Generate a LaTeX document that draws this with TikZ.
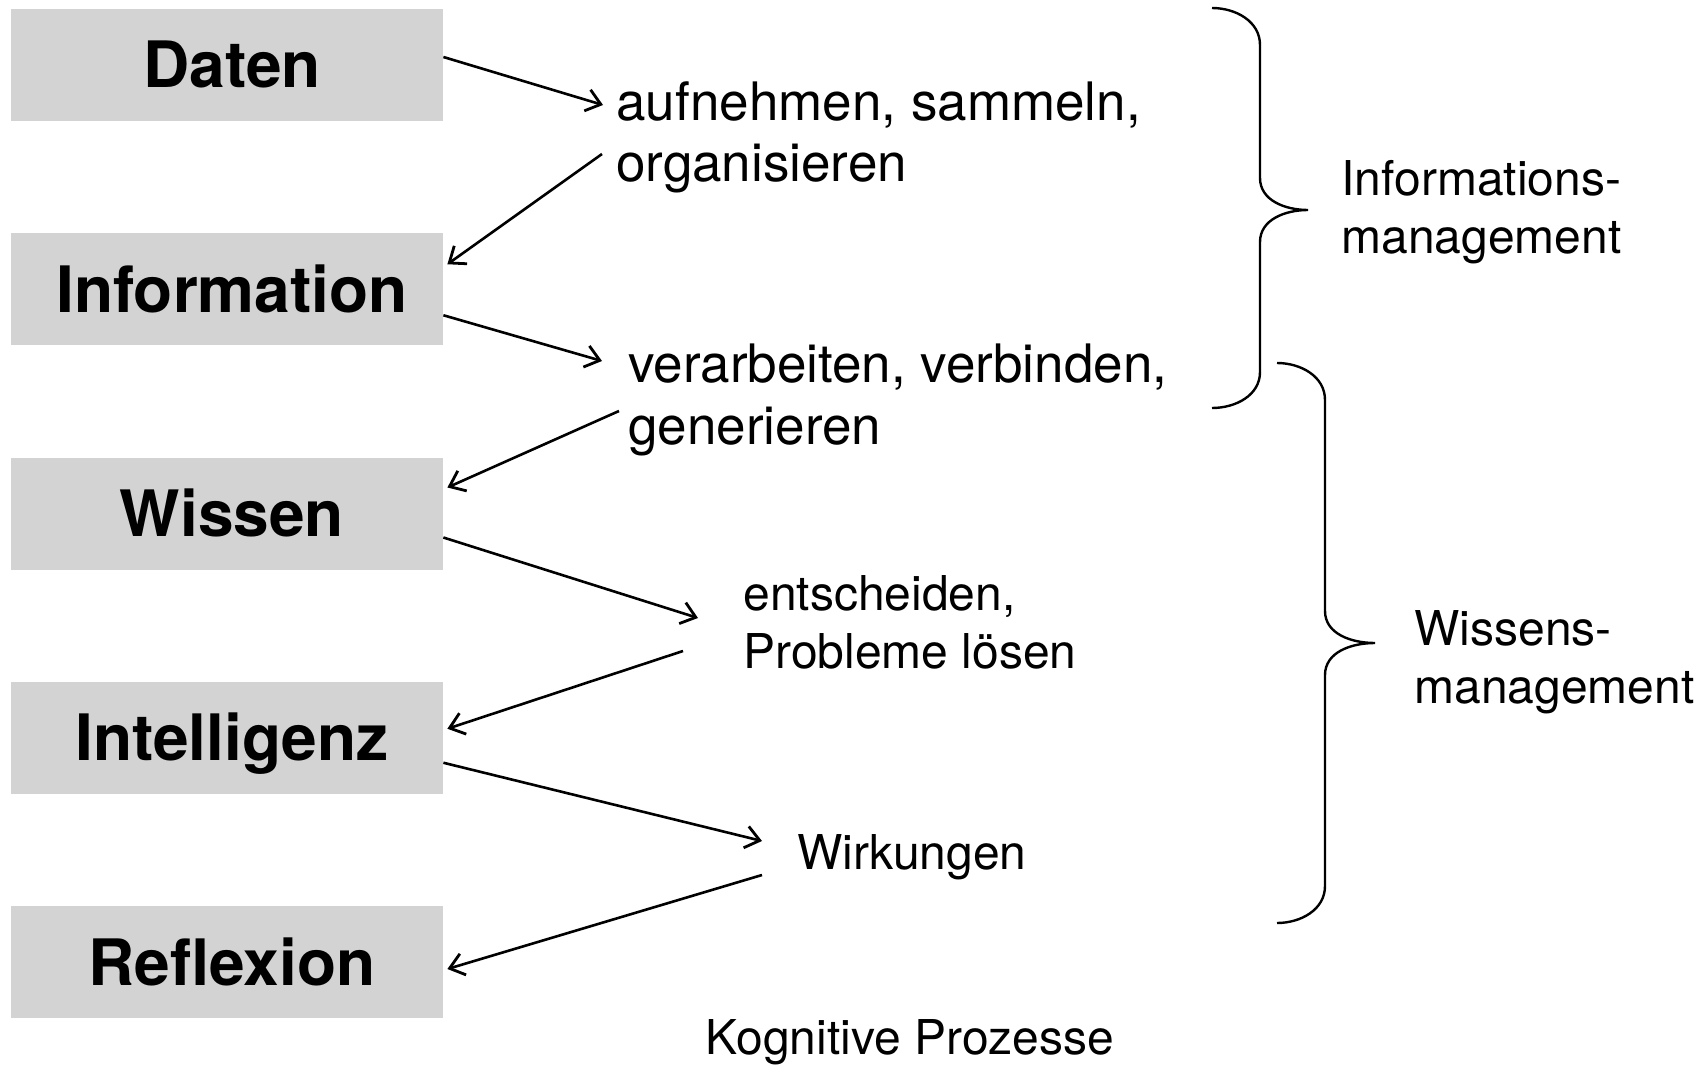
\documentclass[tikz,border=0pt]{standalone}
\usepackage{fontspec}
\setmainfont{TeX Gyre Heros}
\usetikzlibrary{arrows.meta}
\definecolor{boxgray}{RGB}{211,211,211}
\tikzset{
	stage/.style={fill=boxgray, minimum width=216pt, minimum height=56pt, inner sep=0pt,
		font=\fontsize{32}{38}\selectfont\bfseries, text height=23pt, text depth=0pt},
	verb/.style={anchor=base west, inner sep=0pt, align=left, font=\fontsize{26.5}{31}\selectfont},
	note/.style={anchor=base west, inner sep=0pt, align=left, font=\fontsize{24}{28.8}\selectfont},
	flow/.style={-{Straight Barb[length=7pt,width=11pt,line width=1.4pt]}, line width=1.3pt},
	brace/.style={line width=1.2pt},
}
\begin{document}
\begin{tikzpicture}[x=0.5pt,y=-0.5pt]
	\useasboundingbox (0,0) rectangle (1708,1065);
	\foreach \nm/\lbl [count=\i from 0] in {daten/Daten,info/Information,wissen/Wissen,intel/Intelligenz,refl/Reflexion} {
		\node [stage] (\nm) at (227,{65+224.25*\i}) {\hspace*{5pt}\lbl};
	}
	% multi-line texts: base = last line
	\node [verb] (t1) at (616,182) {aufnehmen, sammeln,\\organisieren};
	\node [verb] (t2) at (628,444) {verarbeiten, verbinden,\\generieren};
	\node [note] (t3) at (743,668) {entscheiden,\\Probleme lösen};
	\node [note] (t4) at (797,869) {Wirkungen};
	\node [note, anchor=base] (kp) at (910,1054) {Kognitive Prozesse};
	\node [note] (im) at (1341,253) {Informations-\\management};
	\node [note] (wm) at (1414,703) {Wissens-\\management};
	% arrows
	\draw [flow] ([yshift=4pt]daten.east) -- ([xshift=-6.5pt,yshift=38.5pt]t1.base west);
	\draw [flow] ([xshift=-7pt,yshift=14pt]t1.base west) -- ([xshift=2pt,yshift=12.5pt]info.east);
	\draw [flow] ([yshift=-13pt]info.east) -- ([xshift=-13pt,yshift=41.5pt]t2.base west);
	\draw [flow] ([xshift=-4.5pt,yshift=16.5pt]t2.base west) -- ([xshift=2pt,yshift=13pt]wissen.east);
	\draw [flow] ([yshift=-12pt]wissen.east) -- ([xshift=-22.5pt,yshift=25pt]t3.base west);
	\draw [flow] ([xshift=-30pt,yshift=8.5pt]t3.base west) -- ([xshift=2pt,yshift=4.5pt]intel.east);
	\draw [flow] ([yshift=-12.5pt]intel.east) -- ([xshift=-17.5pt,yshift=14pt]t4.base west);
	\draw [flow] ([xshift=-17.5pt,yshift=-3pt]t4.base west) -- ([xshift=2pt,yshift=-3.5pt]refl.east);
	% braces
	\draw [brace] (1212,8) to[out=0,in=90] (1260,45) -- (1260,178) to[out=-90,in=180] (1308,210)
		to[out=180,in=90] (1260,242) -- (1260,372) to[out=-90,in=0] (1212,408);
	\draw [brace] (1277,363) to[out=0,in=90] (1325,400) -- (1325,611) to[out=-90,in=180] (1375,643)
		to[out=180,in=90] (1325,675) -- (1325,886) to[out=-90,in=0] (1277,923);
\end{tikzpicture}
\end{document}
